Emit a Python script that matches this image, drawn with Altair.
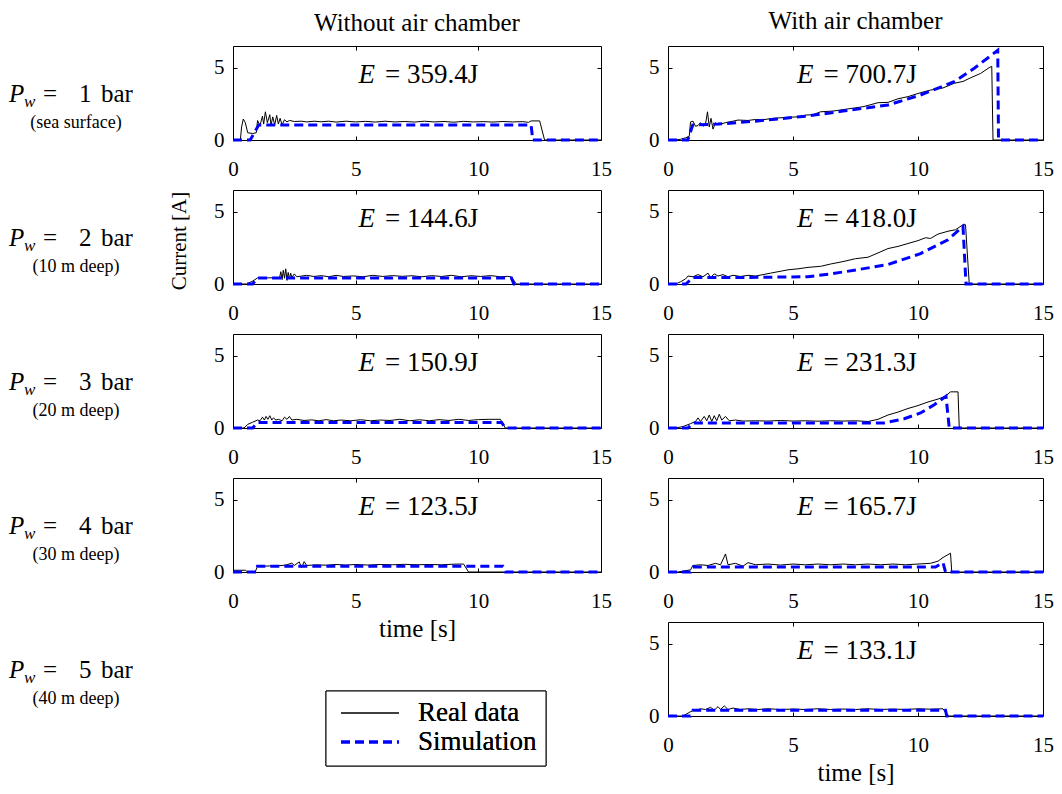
import altair as alt
import pandas as pd

FONT = "Liberation Serif"
T_MAX = 15
I_MAX = 6.5

COLUMN_TITLES = ["Without air chamber", "With air chamber"]
PRESSURES = ["1", "2", "3", "4", "5"]
DEPTHS = ["(sea surface)", "(10 m deep)", "(20 m deep)", "(30 m deep)", "(40 m deep)"]
ENERGY_NO_CHAMBER = ["359.4", "144.6", "150.9", "123.5"]
ENERGY_CHAMBER = ["700.7", "418.0", "231.3", "165.7", "133.1"]
X_TICKS = [0, 5, 10, 15]
Y_TICKS = [0, 5]

# ---- measured current traces (time [s], current [A]) ----
no_chamber_real_1 = [(0, 0), (0.3, 0), (0.35, 0.9), (0.42, 1.45), (0.5, 1.2), (0.6, 0.5), (0.8, 0.45),
                     (0.95, 0.5), (1.0, 1.35), (1.1, 1.0), (1.2, 1.65), (1.25, 1.1), (1.32, 1.95), (1.4, 1.2),
                     (1.5, 1.75), (1.55, 1.0), (1.62, 1.6), (1.7, 1.05), (1.78, 1.7), (1.85, 1.1), (1.92, 1.5),
                     (2.0, 1.05), (2.1, 1.4), (2.2, 1.25), (2.3, 1.35), (2.5, 1.28), (2.8, 1.3), (3.0, 1.25),
                     (3.3, 1.3), (3.6, 1.26), (3.9, 1.3), (4.2, 1.24), (4.6, 1.3), (5.0, 1.25), (5.4, 1.29),
                     (5.8, 1.24), (6.2, 1.3), (6.6, 1.25), (7.0, 1.28), (7.4, 1.24), (7.8, 1.3), (8.2, 1.25),
                     (8.6, 1.28), (9.0, 1.23), (9.4, 1.29), (9.8, 1.25), (10.2, 1.27), (10.6, 1.24), (11.0, 1.28),
                     (11.4, 1.25), (11.8, 1.27), (12.05, 1.22), (12.15, 1.32), (12.5, 1.32), (12.7, 0), (15, 0)]
no_chamber_sim_1 = [(0, 0), (0.7, 0), (1.05, 1.04), (12.15, 1.04), (12.22, 0), (15, 0)]

no_chamber_real_2 = [(0, 0), (0.55, 0), (0.8, 0.2), (1.0, 0.42), (1.3, 0.42), (1.6, 0.43), (1.9, 0.45),
                     (1.95, 0.85), (2.0, 0.3), (2.05, 0.95), (2.1, 0.4), (2.15, 1.05), (2.2, 0.25), (2.25, 0.8),
                     (2.3, 0.35), (2.35, 0.75), (2.4, 0.45), (2.5, 0.7), (2.6, 0.5), (2.8, 0.55), (3.0, 0.6),
                     (3.3, 0.52), (3.6, 0.58), (3.9, 0.5), (4.2, 0.6), (4.5, 0.52), (4.9, 0.56), (5.3, 0.5),
                     (5.7, 0.6), (6.1, 0.52), (6.5, 0.58), (6.9, 0.53), (7.3, 0.57), (7.7, 0.5), (8.1, 0.58),
                     (8.5, 0.52), (8.9, 0.6), (9.3, 0.5), (9.7, 0.57), (10.1, 0.52), (10.5, 0.58), (10.9, 0.5),
                     (11.2, 0.53), (11.35, 0.48), (11.55, 0), (15, 0)]
no_chamber_sim_2 = [(0, 0), (0.8, 0), (1.0, 0.42), (11.35, 0.42), (11.45, 0), (15, 0)]

no_chamber_real_3 = [(0, 0), (0.45, 0), (0.6, 0.25), (0.8, 0.4), (1.0, 0.55), (1.1, 0.5), (1.2, 0.75),
                     (1.28, 0.55), (1.35, 0.8), (1.42, 0.6), (1.5, 0.85), (1.58, 0.55), (1.65, 0.7), (1.75, 0.55),
                     (1.85, 0.6), (2.0, 0.5), (2.1, 0.75), (2.2, 0.6), (2.3, 0.8), (2.4, 0.55), (2.6, 0.6),
                     (2.9, 0.52), (3.2, 0.56), (3.5, 0.5), (3.8, 0.58), (4.1, 0.5), (4.4, 0.55), (4.8, 0.5),
                     (5.2, 0.57), (5.6, 0.5), (6.0, 0.55), (6.4, 0.52), (6.8, 0.6), (7.2, 0.5), (7.6, 0.57),
                     (8.0, 0.5), (8.4, 0.58), (8.8, 0.52), (9.2, 0.6), (9.6, 0.52), (10.0, 0.58), (10.4, 0.6),
                     (10.9, 0.6), (11.1, 0), (15, 0)]
no_chamber_sim_3 = [(0, 0), (0.8, 0), (1.0, 0.38), (10.95, 0.38), (11.1, 0), (15, 0)]

no_chamber_real_4 = [(0, 0.12), (0.5, 0.12), (0.6, 0), (0.9, 0), (1.0, 0.38), (1.5, 0.42), (2.0, 0.45),
                     (2.2, 0.5), (2.4, 0.62), (2.5, 0.45), (2.7, 0.7), (2.8, 0.3), (2.9, 0.72), (3.0, 0.45),
                     (3.4, 0.5), (3.8, 0.47), (4.2, 0.52), (4.6, 0.48), (5.0, 0.52), (5.5, 0.48), (6.0, 0.52),
                     (6.5, 0.5), (7.0, 0.53), (7.5, 0.5), (8.0, 0.52), (8.5, 0.5), (9.0, 0.54), (9.4, 0.55),
                     (9.6, 0), (15, 0)]
no_chamber_sim_4 = [(0, 0), (0.95, 0), (1.0, 0.4), (11.0, 0.4), (11.1, 0), (15, 0)]

chamber_real_1 = [(0, 0), (0.3, 0), (0.5, 0.05), (0.7, 0.15), (0.85, 0.25), (0.9, 1.25), (1.0, 1.3),
                  (1.1, 0.95), (1.2, 1.0), (1.3, 1.2), (1.4, 0.95), (1.5, 1.1), (1.58, 1.95), (1.65, 0.9),
                  (1.72, 1.5), (1.8, 0.75), (1.9, 1.2), (2.0, 1.05), (2.3, 1.2), (2.6, 1.3), (2.8, 1.38),
                  (3.2, 1.35), (3.5, 1.42), (3.8, 1.4), (4.2, 1.5), (4.8, 1.57), (5.2, 1.6), (5.5, 1.72),
                  (5.8, 1.75), (6.1, 1.95), (6.6, 2.0), (7.0, 2.1), (7.4, 2.2), (7.8, 2.3), (8.4, 2.58),
                  (8.8, 2.6), (9.2, 2.85), (9.6, 3.0), (10.1, 3.27), (10.5, 3.45), (11.0, 3.6), (11.45, 3.92),
                  (11.8, 4.05), (12.1, 4.3), (12.5, 4.6), (12.8, 4.95), (12.95, 5.1), (13.0, 0), (15, 0)]
chamber_sim_1 = [(0, 0), (0.79, 0), (0.99, 1.04), (2.0, 1.1), (3.5, 1.3), (5.6, 1.66), (7.0, 2.0),
                 (8.8, 2.42), (10.1, 3.11), (11.45, 4.03), (12.25, 4.96), (13.19, 6.2), (13.22, 0), (15, 0)]

chamber_real_2 = [(0, 0), (0.3, 0), (0.5, 0.15), (0.7, 0.35), (0.8, 0.55), (1.0, 0.5), (1.2, 0.65),
                  (1.4, 0.5), (1.6, 0.75), (1.7, 0.45), (1.85, 0.7), (2.0, 0.55), (2.2, 0.65), (2.4, 0.5),
                  (2.6, 0.6), (2.9, 0.52), (3.2, 0.6), (3.5, 0.55), (3.8, 0.65), (4.1, 0.75), (4.4, 0.85),
                  (4.8, 0.98), (5.2, 1.05), (5.6, 1.15), (6.1, 1.22), (6.5, 1.38), (7.0, 1.55), (7.5, 1.75),
                  (8.0, 1.85), (8.4, 2.15), (8.8, 2.45), (9.2, 2.6), (9.6, 2.8), (10.0, 3.0), (10.3, 3.2),
                  (10.5, 3.15), (10.8, 3.45), (11.2, 3.65), (11.5, 3.75), (11.8, 4.1), (11.9, 4.1),
                  (12.05, 0), (15, 0)]
chamber_sim_2 = [(0, 0), (0.72, 0), (0.99, 0.45), (3.0, 0.45), (5.6, 0.5), (6.5, 0.7), (7.45, 0.95),
                 (8.8, 1.35), (10.1, 2.1), (11.2, 3.06), (11.8, 3.98), (11.92, 0), (15, 0)]

chamber_real_3 = [(0, 0), (0.3, 0), (0.6, 0.1), (0.9, 0.3), (1.1, 0.45), (1.2, 0.7), (1.3, 0.45),
                  (1.45, 0.8), (1.55, 0.5), (1.65, 0.9), (1.75, 0.45), (1.85, 0.85), (1.95, 0.5), (2.05, 0.95),
                  (2.15, 0.55), (2.3, 0.8), (2.45, 0.5), (2.7, 0.55), (3.0, 0.48), (3.5, 0.5), (4.0, 0.48),
                  (4.5, 0.52), (5.0, 0.48), (5.5, 0.5), (6.0, 0.47), (6.5, 0.5), (7.0, 0.48), (7.5, 0.5),
                  (8.0, 0.45), (8.4, 0.6), (8.8, 0.9), (9.2, 1.1), (9.6, 1.35), (10.0, 1.55), (10.4, 1.8),
                  (10.8, 2.0), (11.1, 2.2), (11.3, 2.5), (11.6, 2.5), (11.65, 0), (15, 0)]
chamber_sim_3 = [(0, 0), (0.8, 0), (1.0, 0.35), (8.65, 0.35), (9.45, 0.64), (10.1, 1.04), (10.65, 1.61),
                 (11.12, 2.19), (11.25, 0), (15, 0)]

chamber_real_4 = [(0, 0), (0.4, 0), (0.9, 0.15), (1.0, 0.45), (1.3, 0.5), (1.6, 0.45), (1.9, 0.6),
                  (2.1, 0.5), (2.3, 1.25), (2.4, 0.5), (2.7, 0.6), (3.0, 0.4), (3.2, 0.65), (3.5, 0.5),
                  (4.0, 0.55), (4.5, 0.48), (5.0, 0.55), (5.5, 0.5), (6.0, 0.55), (6.5, 0.5), (7.0, 0.55),
                  (7.5, 0.5), (8.0, 0.55), (8.5, 0.5), (9.0, 0.55), (9.5, 0.5), (10.0, 0.55), (10.5, 0.6),
                  (10.8, 0.75), (11.0, 1.0), (11.3, 1.3), (11.35, 0), (15, 0)]
chamber_sim_4 = [(0, 0), (0.9, 0), (1.0, 0.35), (10.7, 0.35), (11.0, 0.65), (11.1, 0), (15, 0)]

chamber_real_5 = [(0, 0), (0.6, 0), (0.9, 0.3), (1.1, 0.4), (1.3, 0.5), (1.5, 0.45), (1.7, 0.6),
                  (1.85, 0.4), (2.0, 0.65), (2.1, 0.45), (2.25, 0.7), (2.4, 0.45), (2.6, 0.55), (2.9, 0.45),
                  (3.2, 0.5), (3.6, 0.45), (4.0, 0.5), (4.5, 0.45), (5.0, 0.48), (5.5, 0.45), (6.0, 0.5),
                  (6.5, 0.45), (7.0, 0.48), (7.5, 0.45), (8.0, 0.5), (8.5, 0.45), (9.0, 0.48), (9.5, 0.45),
                  (10.0, 0.5), (10.5, 0.47), (11.0, 0.5), (11.2, 0), (15, 0)]
chamber_sim_5 = [(0, 0), (0.9, 0), (1.0, 0.4), (11.1, 0.4), (11.15, 0), (15, 0)]

NO_CHAMBER = [(no_chamber_real_1, no_chamber_sim_1), (no_chamber_real_2, no_chamber_sim_2),
              (no_chamber_real_3, no_chamber_sim_3), (no_chamber_real_4, no_chamber_sim_4)]
CHAMBER = [(chamber_real_1, chamber_sim_1), (chamber_real_2, chamber_sim_2), (chamber_real_3, chamber_sim_3),
           (chamber_real_4, chamber_sim_4), (chamber_real_5, chamber_sim_5)]

PANEL_H = 94
LEFT_W = 368
RIGHT_W = 375
LABEL_W = 157
BLUE = "#0000ff"
DASH = [9, 5]


def panel(real, sim, energy, width, title=None, xtitle=None):
    real_df = pd.DataFrame(real, columns=["t", "i"])
    sim_df = pd.DataFrame(sim, columns=["t", "i"])
    xs = alt.Scale(domain=[0, T_MAX], nice=False, zero=False)
    ys = alt.Scale(domain=[0, I_MAX], nice=False)
    common = dict(domain=False, grid=False, tickSize=4, offset=-4, tickColor="black")
    x_bottom = alt.Axis(values=X_TICKS, labelFlush=False, labelPadding=18, labelFontSize=21,
                        title=xtitle, titlePadding=5, titleFontSize=25, titleFontWeight="normal", **common)
    y_left = alt.Axis(values=Y_TICKS, labelFlush=False, labelPadding=9, labelFontSize=21, title=None, **common)
    x_top = alt.Axis(orient="top", values=[5, 10], labels=False, title=None, **common)
    y_right = alt.Axis(orient="right", values=[5], labels=False, title=None, **common)

    real_line = alt.Chart(real_df).mark_line(color="black", strokeWidth=1).encode(
        x=alt.X("t:Q", scale=xs, axis=x_bottom),
        y=alt.Y("i:Q", scale=ys, axis=y_left),
    )
    sim_line = alt.Chart(sim_df).mark_line(color=BLUE, strokeWidth=3, strokeDash=DASH).encode(
        x=alt.X("t:Q", scale=xs, axis=x_top),
        y=alt.Y("i:Q", scale=ys, axis=y_right),
    )
    e_df = pd.DataFrame({"txt": ["= " + energy + "J"]})
    e_sym = alt.Chart(e_df).mark_text(text="E", fontStyle="italic", fontSize=27, align="right",
                                      baseline="middle", dx=-42).encode(
        x=alt.value(width / 2), y=alt.value(29))
    e_val = alt.Chart(e_df).mark_text(fontSize=27, align="left", baseline="middle", dx=-32).encode(
        text="txt:N", x=alt.value(width / 2), y=alt.value(29))
    layered = alt.layer(real_line, sim_line, e_sym, e_val).resolve_axis(x="independent", y="independent")
    props = dict(width=width, height=PANEL_H)
    if title:
        props["title"] = alt.TitleParams(title, fontSize=25, fontWeight="normal", font=FONT,
                                         anchor="middle", frame="group", offset=10, color="black")
    return layered.properties(**props)


def row_label(k, ytitle=False):
    df = pd.DataFrame({"p": [PRESSURES[k]], "d": [DEPTHS[k]]})
    base = alt.Chart(df)
    layers = [
        base.mark_text(text="P", fontStyle="italic", fontSize=25, align="left", baseline="alphabetic").encode(
            x=alt.value(0), y=alt.value(56)),
        base.mark_text(text="w", fontStyle="italic", fontSize=17, align="left", baseline="alphabetic").encode(
            x=alt.value(15), y=alt.value(61)),
        base.mark_text(text="=", fontSize=25, align="left", baseline="alphabetic").encode(
            x=alt.value(34), y=alt.value(56)),
        base.mark_text(fontSize=25, align="left", baseline="alphabetic").encode(
            text="p:N", x=alt.value(70), y=alt.value(56)),
        base.mark_text(text="bar", fontSize=25, align="left", baseline="alphabetic").encode(
            x=alt.value(92), y=alt.value(56)),
        base.mark_text(fontSize=18, align="center", baseline="middle").encode(
            text="d:N", x=alt.value(67), y=alt.value(77)),
    ]
    if ytitle:
        layers.append(base.mark_text(text="Current [A]", fontSize=21, angle=270, align="center",
                                     baseline="middle").encode(x=alt.value(171), y=alt.value(51)))
    return alt.layer(*layers).properties(width=LABEL_W, height=PANEL_H,
                                         view=alt.ViewBackground(stroke="transparent"))


def legend_chart():
    df = pd.DataFrame({"name": ["Real data", "Simulation"]})
    base = alt.Chart(df)
    box = base.mark_rect(fill="white", stroke="black", strokeWidth=1).encode(
        x=alt.value(93), x2=alt.value(313), y=alt.value(69), y2=alt.value(144))
    l1 = base.mark_rule(color="black", strokeWidth=1).encode(x=alt.value(108), x2=alt.value(166), y=alt.value(91))
    l2 = base.mark_rule(color=BLUE, strokeWidth=3, strokeDash=DASH).encode(
        x=alt.value(108), x2=alt.value(166), y=alt.value(120))
    t1 = base.mark_text(text="Real data", fontSize=27, align="left", baseline="middle").encode(
        x=alt.value(185), y=alt.value(91))
    t2 = base.mark_text(text="Simulation", fontSize=27, align="left", baseline="middle").encode(
        x=alt.value(185), y=alt.value(120))
    return alt.layer(box, l1, l2, t1, t2).properties(width=LEFT_W, height=PANEL_H,
                                                    view=alt.ViewBackground(stroke="transparent"))


cells = []
for k in range(5):
    cells.append(row_label(k, ytitle=(k == 1)))
    if k < 4:
        real, sim = NO_CHAMBER[k]
        cells.append(panel(real, sim, ENERGY_NO_CHAMBER[k], LEFT_W,
                           title=COLUMN_TITLES[0] if k == 0 else None,
                           xtitle="time [s]" if k == 3 else None))
    else:
        cells.append(legend_chart())
    real, sim = CHAMBER[k]
    cells.append(panel(real, sim, ENERGY_CHAMBER[k], RIGHT_W,
                       title=COLUMN_TITLES[1] if k == 0 else None,
                       xtitle="time [s]" if k == 4 else None))

chart = alt.concat(*cells, columns=3, spacing={"row": 50, "column": 67}, bounds="flush").properties(
    padding=0
).configure_view(
    stroke="black", strokeWidth=1
).configure_axis(
    labelFont=FONT, titleFont=FONT, labelColor="black", titleColor="black"
).configure_text(font=FONT, color="black").configure_title(font=FONT)

chart.save("out.html", embed_options={"renderer": "svg", "actions": False})
